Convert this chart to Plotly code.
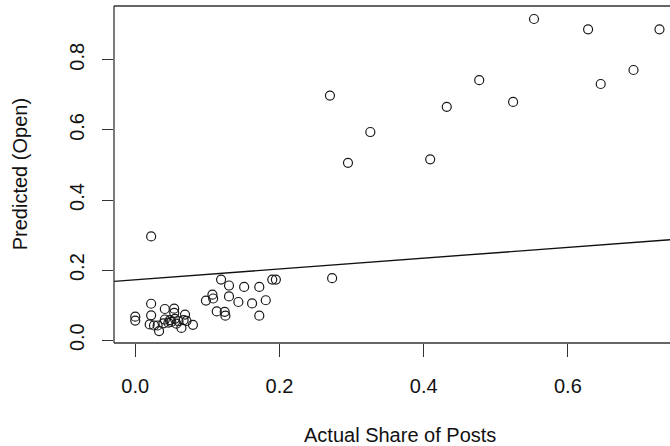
import plotly.graph_objects as go

# Data
actual_share = [
    0.553, 0.628, 0.727, 0.691, 0.6455, 0.477, 0.524, 0.432, 0.270, 0.326, 0.295, 0.409,
    0.022, 0.273,
    0.000, 0.000, 0.022, 0.022, 0.020, 0.026, 0.031, 0.033, 0.041, 0.041, 0.039,
    0.054, 0.054, 0.048, 0.055, 0.060, 0.064, 0.069, 0.067, 0.080,
    0.046, 0.050, 0.057, 0.071,
    0.098, 0.107, 0.108, 0.119, 0.130, 0.130, 0.143, 0.151, 0.172, 0.162, 0.181, 0.172,
    0.190, 0.195, 0.113, 0.124, 0.125,
]
predicted_open = [
    0.9165, 0.887, 0.887, 0.771, 0.731, 0.742, 0.680, 0.666, 0.698, 0.594, 0.506, 0.516,
    0.296, 0.177,
    0.067, 0.056, 0.104, 0.071, 0.045, 0.042, 0.042, 0.026, 0.089, 0.059, 0.048,
    0.090, 0.078, 0.057, 0.061, 0.054, 0.035, 0.073, 0.057, 0.044,
    0.050, 0.052, 0.047, 0.055,
    0.113, 0.130, 0.119, 0.173, 0.156, 0.125, 0.109, 0.152, 0.152, 0.105, 0.114, 0.070,
    0.173, 0.173, 0.082, 0.081, 0.070,
]
line_intercept = 0.1725
line_slope = 0.154
x_ticks = [0.0, 0.2, 0.4, 0.6]
y_ticks = [0.0, 0.2, 0.4, 0.6, 0.8]

x_range = [-0.0295, 0.7416]
y_range = [-0.008, 0.9536]

FONT = "Liberation Sans, Arial, Helvetica, sans-serif"

fig = go.Figure()
fig.add_trace(go.Scatter(
    x=actual_share, y=predicted_open, mode="markers",
    marker=dict(symbol="circle-open", size=9, color="#1a1a1a", line=dict(width=1.2, color="#1a1a1a")),
    showlegend=False, hoverinfo="x+y",
))
fig.add_trace(go.Scatter(
    x=x_range, y=[line_intercept + line_slope * v for v in x_range], mode="lines",
    line=dict(color="#111", width=1.4), showlegend=False, hoverinfo="skip",
))

fig.update_layout(
    width=670, height=446,
    margin=dict(l=114, r=0, t=6, b=103),
    paper_bgcolor="white", plot_bgcolor="white",
    font=dict(family=FONT, size=20, color="#111"),
    xaxis=dict(range=x_range, tickvals=x_ticks, ticktext=["0.0", "0.2", "0.4", "0.6"],
               showgrid=False, zeroline=False, showline=False,
               ticks="outside", ticklen=13, tickwidth=1, tickcolor="#333",
               ticklabelstandoff=12),
    yaxis=dict(range=y_range, tickvals=y_ticks, ticktext=["0.0", "0.2", "0.4", "0.6", "0.8"],
               showgrid=False, zeroline=False, showline=False, tickangle=-90,
               ticks="outside", ticklen=11, tickwidth=1, tickcolor="#333",
               ticklabelstandoff=10),
    shapes=[
        dict(type="line", xref="paper", yref="paper", x0=0, x1=1.01, y0=1, y1=1, line=dict(color="#333", width=1.3)),
        dict(type="line", xref="paper", yref="paper", x0=0, x1=0, y0=0, y1=1, line=dict(color="#333", width=1.3)),
        dict(type="line", xref="paper", yref="paper", x0=0, x1=1.01, y0=0, y1=0, line=dict(color="#333", width=1.3)),
    ],
    annotations=[
        dict(text="Actual Share of Posts", xref="paper", yref="paper", x=0.515, y=-0.272,
             xanchor="center", yanchor="middle", showarrow=False, font=dict(size=20, color="#111")),
        dict(text="Predicted (Open)", xref="paper", yref="paper", x=-0.1695, y=0.5, textangle=-90,
             xanchor="center", yanchor="middle", showarrow=False, font=dict(size=20, color="#111")),
    ],
)

fig.write_html("out.html", config={"displayModeBar": False},
               post_script="document.body.style.margin='0';document.body.style.overflow='hidden';")
